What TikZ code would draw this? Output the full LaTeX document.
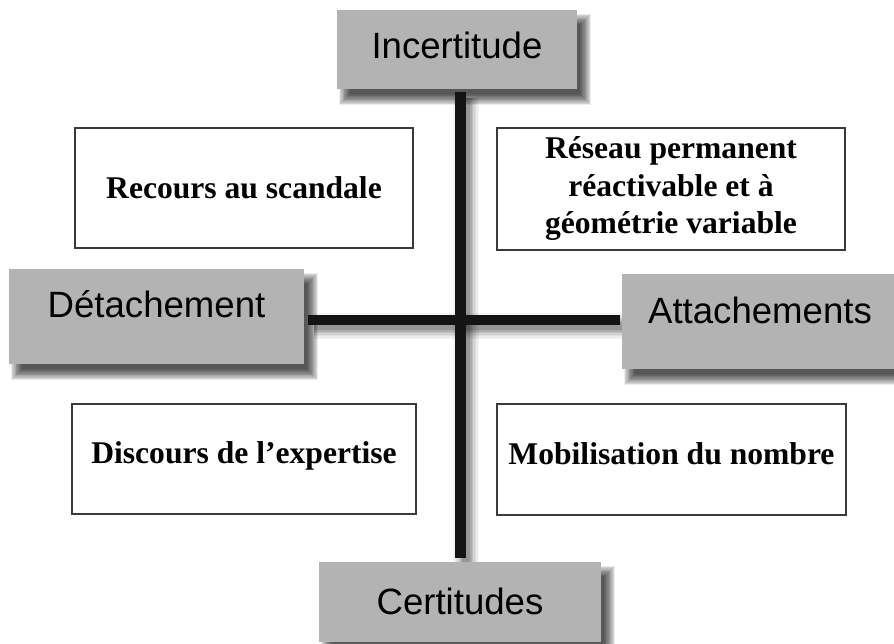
\documentclass[tikz,border=0pt]{standalone}
\usepackage{fontspec}
\setmainfont{Liberation Serif}
\newfontfamily\grayfont{Liberation Sans}
\usetikzlibrary{calc}
\definecolor{boxgray}{HTML}{B3B3B3}
\definecolor{barblack}{HTML}{141414}
\definecolor{framegray}{HTML}{3A3A3A}
\pgfdeclarelayer{bg}
\pgfsetlayers{bg,main}
\newcommand\barshade[2]{%
  \foreach \w/\o in {26/0.04,23/0.04,20/0.05,17/0.06,14/0.08,11/0.1,8/0.12}{%
    \draw[line width=\w pt, black, opacity=\o, transform canvas={shift={(6pt,-6pt)}}] #1 -- #2;}}
\newcommand\boxshade[1]{%
  \foreach \r in {6,5.2,...,-6}{%
    \fill[black, opacity=0.065] ($(#1.north west)+(8-\r,10-\r)$) rectangle ($(#1.south east)+(8+\r,10+\r)$);}}
\begin{document}
\begin{tikzpicture}[x=1pt,y=-1pt,
  graybox/.style={rectangle, fill=boxgray, inner sep=0pt, text height=27pt,
    font=\grayfont\fontsize{36.6}{44}\selectfont},
  quadbox/.style={rectangle, draw=framegray, line width=1.1pt, fill=white, inner sep=0pt, align=center,
    font=\bfseries\fontsize{31.6}{37.5}\selectfont},
  bar/.style={draw=barblack, line width=11pt, line cap=butt}]
\useasboundingbox (0,0) rectangle (894,643);

% quadrant boxes
\node[quadbox, minimum width=338pt, minimum height=120pt] (rec) at (244,188) {Recours au scandale};
\node[quadbox, minimum width=348pt, minimum height=122pt] (res) at (671,189) {Réseau permanent\\réactivable et à\\géométrie variable};
\node[quadbox, minimum width=344pt, minimum height=110pt, text depth=12pt] (dis) at (244,459) {Discours de l’expertise};
\node[quadbox, minimum width=349pt, minimum height=111pt, text depth=12pt] (mob) at (671.5,459.5) {Mobilisation du nombre};

% axis boxes
\node[graybox, minimum width=240pt, minimum height=79pt, text depth=9pt] (inc) at (457,49.5) {Incertitude};
\node[graybox, minimum width=295pt, minimum height=95pt, text depth=25pt] (det) at (156.5,316.5) {Détachement};
\node[graybox, minimum width=276pt, minimum height=95pt, text depth=23pt] (att) at (760,321.5) {Attachements};
\node[graybox, minimum width=282pt, minimum height=80pt, text depth=3pt] (cert) at (460,602) {Certitudes};

% axes
\coordinate (vtop) at ($(inc.south -| cert.north)+(0,3)$);
\coordinate (vbot) at ($(cert.north)+(0,-4)$);
\coordinate (hleft) at ($(det.east |- att.west)+(4,-1.5)$);
\coordinate (hright) at ($(att.west)+(-2,-1.5)$);
\begin{pgfonlayer}{bg}
\fill[white] (0,0) rectangle (894,643);
\boxshade{inc}
\boxshade{det}
\boxshade{att}
\boxshade{cert}
\barshade{(vtop)}{(vbot)}
\barshade{(hleft)}{(hright)}
\end{pgfonlayer}
\draw[bar] (vtop) -- (vbot);
\draw[bar, line width=10pt] (hleft) -- (hright);
\end{tikzpicture}
\end{document}
